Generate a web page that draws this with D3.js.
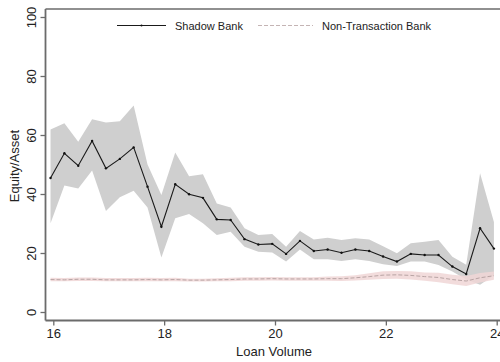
<!DOCTYPE html>
<html><head><meta charset="utf-8">
<script src="https://cdn.jsdelivr.net/npm/d3@7"></script>
<style>body{margin:0;background:#fff}svg{display:block;font-family:"Liberation Sans",Arial,sans-serif}</style>
</head><body>
<svg id="c" width="500" height="362"></svg>
<script>
const loanVolume = [15.95,16.2,16.45,16.7,16.95,17.2,17.45,17.7,17.95,18.2,18.45,18.7,18.95,19.2,19.45,19.7,19.95,20.2,20.45,20.7,20.95,21.2,21.45,21.7,21.95,22.2,22.45,22.7,22.95,23.2,23.45,23.7,23.95];
const shadow = [45.4,53.8,49.6,58.0,48.7,51.9,55.8,42.5,28.9,43.3,39.9,38.7,31.4,31.2,24.7,22.9,23.1,19.7,24.1,20.7,21.2,20.1,21.2,20.7,18.8,17.1,19.7,19.3,19.3,15.4,12.9,28.4,21.5];
const shadowHi = [61.9,64.0,57.7,65.3,64.2,64.7,70.0,50.0,39.7,54.1,46.0,46.7,36.8,35.4,28.4,26.1,26.4,22.1,27.5,24.6,25.2,24.4,25.0,24.6,22.3,19.9,23.3,23.8,24.4,18.7,16.0,47.0,30.5];
const shadowLo = [30.1,42.9,41.9,48.0,34.2,38.9,41.1,35.4,18.5,31.8,33.2,30.1,26.1,27.2,22.1,20.4,20.2,17.1,21.2,17.9,17.9,17.3,17.9,17.3,16.2,15.6,17.1,17.1,15.9,13.7,11.0,9.2,12.5];
const nonTrans = [11.0,10.9,11.1,11.1,10.9,10.9,10.9,11.0,10.9,11.0,10.8,10.8,10.9,11.0,11.2,11.2,11.3,11.2,11.2,11.2,11.3,11.3,11.6,12.0,12.5,12.6,12.4,12.0,11.7,11.0,10.5,11.6,12.3];
const nonTransLo = [10.4,10.4,10.5,10.5,10.4,10.4,10.4,10.4,10.4,10.4,10.3,10.3,10.4,10.4,10.6,10.6,10.7,10.6,10.6,10.6,10.6,10.5,10.7,10.9,11.2,11.3,11.0,10.6,10.1,9.4,8.8,10.0,10.9];
const nonTransHi = [11.6,11.5,11.7,11.7,11.5,11.5,11.5,11.6,11.5,11.6,11.3,11.3,11.4,11.6,11.8,11.8,11.9,11.8,11.8,11.8,12.0,12.1,12.5,13.1,13.8,13.9,13.8,13.4,13.3,12.6,12.2,13.2,13.7];
const xTicks = [16,18,20,22,24];
const yTicks = [0,20,40,60,80,100];
const seriesNames = ["Shadow Bank","Non-Transaction Bank"];

(function(){
const svg = d3.select("#c");
const x = d3.scaleLinear().domain([16,24]).range([53.3,496.7]);
const y = d3.scaleLinear().domain([0,100]).range([312,17]);
const axisColor = "#6b6b6b";
const idx = d3.range(loanVolume.length);

const area = (lo,hi)=>d3.area().x(i=>x(loanVolume[i])).y0(i=>y(lo[i])).y1(i=>y(hi[i]));
svg.append("path").attr("d",area(shadowLo,shadowHi)(idx)).attr("fill","#cfcfcf");
svg.append("path").attr("d",area(nonTransLo,nonTransHi)(idx)).attr("fill","#f0d6d6").attr("fill-opacity",0.85);

const line = v=>d3.line().x(i=>x(loanVolume[i])).y(i=>y(v[i]));
svg.append("path").attr("d",line(nonTrans)(idx)).attr("fill","none").attr("stroke","#b8a4a4").attr("stroke-width",1).attr("stroke-dasharray","4,2");
svg.append("path").attr("d",line(shadow)(idx)).attr("fill","none").attr("stroke","#1a1a1a").attr("stroke-width",1.1);
svg.selectAll(".pt").data(idx).enter().append("circle")
  .attr("cx",i=>x(loanVolume[i])).attr("cy",i=>y(shadow[i])).attr("r",1.2).attr("fill","#111");

const pLeft = 45.5, pTop = 9, pBottom = 320.5;
svg.append("line").attr("x1",pLeft).attr("x2",500).attr("y1",pTop).attr("y2",pTop).attr("stroke",axisColor).attr("stroke-width",1.6);

const gy = svg.append("g").attr("transform",`translate(${pLeft},0)`)
  .call(d3.axisLeft(y).tickValues(yTicks).tickSize(5).tickPadding(0).tickFormat(d3.format("d")));
gy.select(".domain").attr("d",`M0,${pTop}V${pBottom}`).attr("stroke",axisColor).attr("stroke-width",1.8);
gy.selectAll(".tick line").attr("stroke",axisColor).attr("stroke-width",1.3);
gy.selectAll(".tick text").attr("transform","translate(-14,0) rotate(-90)").attr("text-anchor","middle").attr("dy","0.35em").attr("x",0)
  .attr("font-size",13).attr("fill","#222").attr("font-family","Liberation Sans, Arial, sans-serif");

const gx = svg.append("g").attr("transform",`translate(0,${pBottom})`)
  .call(d3.axisBottom(x).tickValues(xTicks).tickSize(5).tickPadding(3).tickFormat(d3.format("d")));
gx.select(".domain").attr("d",`M${pLeft},0H500`).attr("stroke",axisColor).attr("stroke-width",1.8);
gx.selectAll(".tick line").attr("stroke",axisColor).attr("stroke-width",1.3);
gx.selectAll(".tick text").attr("font-size",13).attr("fill","#222").attr("font-family","Liberation Sans, Arial, sans-serif");

svg.append("text").attr("x",274).attr("y",356).attr("text-anchor","middle").attr("font-size",13).attr("fill","#222").text("Loan Volume");
svg.append("text").attr("transform","translate(19,166) rotate(-90)").attr("text-anchor","middle").attr("font-size",13).attr("fill","#222").text("Equity/Asset");

const lg = svg.append("g");
lg.append("line").attr("x1",117).attr("x2",166).attr("y1",25.5).attr("y2",25.5).attr("stroke","#1a1a1a").attr("stroke-width",1.1);
lg.append("circle").attr("cx",141.5).attr("cy",25.5).attr("r",1).attr("fill","#111");
lg.append("text").attr("x",175).attr("y",29.5).attr("font-size",11).attr("fill","#222").text(seriesNames[0]);
lg.append("line").attr("x1",258).attr("x2",313).attr("y1",25.5).attr("y2",25.5).attr("stroke","#c4b4b4").attr("stroke-width",1).attr("stroke-dasharray","4,2");
lg.append("text").attr("x",322).attr("y",29.5).attr("font-size",11).attr("fill","#222").text(seriesNames[1]);
})();
</script>
</body></html>
